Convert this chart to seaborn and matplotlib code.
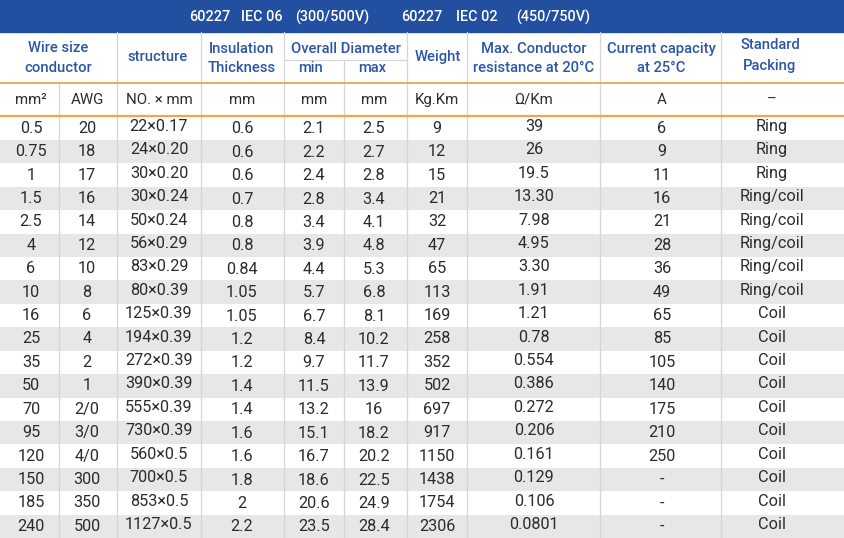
import matplotlib
matplotlib.use("Agg")
import matplotlib.pyplot as plt
from matplotlib.colors import ListedColormap
import numpy as np
import pandas as pd
import seaborn as sns

# ---------------- data ----------------
size_mm2 = ["0.5", "0.75", "1", "1.5", "2.5", "4", "6", "10", "16", "25", "35", "50",
            "70", "95", "120", "150", "185", "240"]
awg = ["20", "18", "17", "16", "14", "12", "10", "8", "6", "4", "2", "1",
       "2/0", "3/0", "4/0", "300", "350", "500"]
structure = ["22×0.17", "24×0.20", "30×0.20", "30×0.24", "50×0.24", "56×0.29", "83×0.29",
             "80×0.39", "125×0.39", "194×0.39", "272×0.39", "390×0.39", "555×0.39",
             "730×0.39", "560×0.5", "700×0.5", "853×0.5", "1127×0.5"]
insulation = ["0.6", "0.6", "0.6", "0.7", "0.8", "0.8", "0.84", "1.05", "1.05", "1.2", "1.2",
              "1.4", "1.4", "1.6", "1.6", "1.8", "2", "2.2"]
diam_min = ["2.1", "2.2", "2.4", "2.8", "3.4", "3.9", "4.4", "5.7", "6.7", "8.4", "9.7", "11.5",
            "13.2", "15.1", "16.7", "18.6", "20.6", "23.5"]
diam_max = ["2.5", "2.7", "2.8", "3.4", "4.1", "4.8", "5.3", "6.8", "8.1", "10.2", "11.7", "13.9",
            "16", "18.2", "20.2", "22.5", "24.9", "28.4"]
weight = ["9", "12", "15", "21", "32", "47", "65", "113", "169", "258", "352", "502",
          "697", "917", "1150", "1438", "1754", "2306"]
resistance = ["39", "26", "19.5", "13.30", "7.98", "4.95", "3.30", "1.91", "1.21", "0.78",
              "0.554", "0.386", "0.272", "0.206", "0.161", "0.129", "0.106", "0.0801"]
current = ["6", "9", "11", "16", "21", "28", "36", "49", "65", "85", "105", "140",
           "175", "210", "250", "-", "-", "-"]
packing = ["Ring", "Ring", "Ring", "Ring/coil", "Ring/coil", "Ring/coil", "Ring/coil",
           "Ring/coil", "Coil", "Coil", "Coil", "Coil", "Coil", "Coil", "Coil", "Coil",
           "Coil", "Coil"]
units = ["mm²", "AWG", "NO. × mm", "mm", "mm", "mm", "Kg.Km", "Ω/Km", "A", "–"]
title_tokens = ["60227", "IEC 06", "(300/500V)", "60227", "IEC 02", "(450/750V)"]

columns = [size_mm2, awg, structure, insulation, diam_min, diam_max, weight,
           resistance, current, packing]
table = pd.DataFrame({f"c{i}": c for i, c in enumerate(columns)})

# ---------------- style ----------------
sns.set_theme(style="white")
plt.rcParams["font.family"] = ["Roboto", "DejaVu Sans"]

BLUE_BAR = "#224f9f"
HEAD_BLUE = "#2c57a6"
ORANGE = "#f5a447"
GRID = "#d6d6d8"
BAND = "#e7e7e9"
TXT = "#2b2b2b"

W, H = 845, 538
fig = plt.figure(figsize=(W / 100, H / 100), dpi=100)

# banding via seaborn heatmap
n = len(table)
top_data = 116.5
row_h = (H - top_data) / n
band_ax = fig.add_axes([0, 0, 1, (H - top_data) / H])
stripes = pd.DataFrame({"band": [i % 2 for i in range(n)]})
sns.heatmap(stripes, cmap=ListedColormap(["white", BAND]), cbar=False,
            xticklabels=False, yticklabels=False, ax=band_ax, linewidths=0)
band_ax.set_zorder(0)

ax = fig.add_axes([0, 0, 1, 1])
ax.set_zorder(1)
ax.patch.set_alpha(0)
ax.set_xlim(0, W)
ax.set_ylim(H, 0)
ax.axis("off")

# title bar
ax.axhspan(0, 32, color=BLUE_BAR, zorder=1)
tok_x = [189, 241, 295, 401, 456, 516]
for t, x in zip(title_tokens, tok_x):
    ax.text(x, 17, t, color="white", fontsize=10.4, fontweight=500,
            ha="left", va="center", zorder=3)

# grid lines
vlines_full = [117, 201, 284, 407, 467.5, 600.5, 721.5]
for x in vlines_full:
    ax.plot([x, x], [32, H], color=GRID, lw=0.9, zorder=2)
ax.plot([59.5, 59.5], [83, H], color=GRID, lw=0.9, zorder=2)
ax.plot([344.5, 344.5], [60, H], color=GRID, lw=0.9, zorder=2)
ax.plot([284, 407], [60, 60], color=GRID, lw=0.9, zorder=2)
ax.plot([0, W], [82.7, 82.7], color=ORANGE, lw=1.3, zorder=3)
ax.plot([0, W], [116, 116], color=ORANGE, lw=1.6, zorder=3)

# header texts
hdr = dict(color=HEAD_BLUE, fontsize=10.6, fontweight=500, ha="center", va="center", zorder=3)
ax.text(58, 48, "Wire size", **hdr)
ax.text(58, 68, "conductor", **hdr)
ax.text(158, 57, "structure", **hdr)
ax.text(242, 49, "Insulation", **hdr)
ax.text(242, 68, "Thickness", **hdr)
ax.text(346, 49, "Overall Diameter", **hdr)
ax.text(311, 68.5, "min", **hdr)
ax.text(372, 68.5, "max", **hdr)
ax.text(438, 57, "Weight", **hdr)
ax.text(534, 49, "Max. Conductor", **hdr)
ax.text(534, 68, "resistance at 20°C", **hdr)
ax.text(661, 49, "Current capacity", **hdr)
ax.text(661, 68, "at 25°C", **hdr)
ax.text(770, 45, "Standard", **hdr)
ax.text(770, 66, "Packing", **hdr)

col_x = [31, 87, 159, 242, 314, 374, 437, 534, 662, 772]
y_off = [0, 0, -1.8, 0.6, 0.6, 0.6, 0, -1.8, 0, -1.8]

for x, u in zip(col_x, units):
    ax.text(x, 100, u, color=TXT, fontsize=10.8, ha="center", va="center", zorder=3)

for i in range(n):
    yc = top_data + row_h * (i + 0.5)
    for j, c in enumerate(table.columns):
        ax.text(col_x[j], yc + y_off[j], table[c].iloc[i], color=TXT, fontsize=11.7,
                ha="center", va="center", zorder=3)

fig.savefig("out.png", dpi=100)
